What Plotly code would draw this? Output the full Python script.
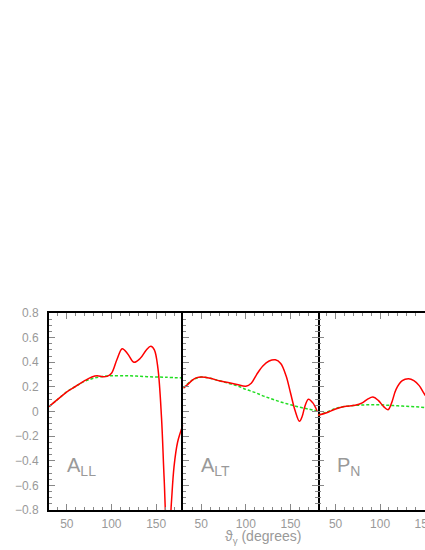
import plotly.graph_objects as go

# ---- data ----
x_ll_fit = [30, 40, 50, 60, 70, 78, 84, 90, 95, 100, 106, 112, 118, 125, 132, 139, 144, 148, 152, 156, 159, 162, 164.5, 167, 170, 174, 180]
y_ll_fit = [0.04, 0.10, 0.16, 0.205, 0.25, 0.28, 0.29, 0.282, 0.285, 0.31, 0.42, 0.51, 0.47, 0.40, 0.43, 0.50, 0.53, 0.50, 0.35, -0.05, -0.55, -0.95, -1.0, -0.75, -0.45, -0.25, -0.11]
x_ll_ref = [30, 40, 50, 60, 70, 80, 90, 100, 120, 140, 160, 180]
y_ll_ref = [0.04, 0.10, 0.16, 0.205, 0.245, 0.27, 0.285, 0.29, 0.29, 0.283, 0.278, 0.272]

x_lt_fit = [30, 35, 40, 45, 50, 60, 70, 80, 90, 100, 106, 112, 119, 126, 133, 139, 145, 150, 155, 160, 163, 166, 170, 175, 180]
y_lt_fit = [0.19, 0.22, 0.255, 0.275, 0.28, 0.27, 0.25, 0.235, 0.22, 0.205, 0.23, 0.30, 0.37, 0.41, 0.42, 0.39, 0.29, 0.15, 0.01, -0.08, -0.04, 0.04, 0.10, 0.07, 0.0]
x_lt_ref = [30, 40, 50, 60, 70, 80, 90, 100, 110, 120, 130, 140, 150, 160, 170, 180]
y_lt_ref = [0.19, 0.255, 0.28, 0.27, 0.25, 0.23, 0.21, 0.18, 0.155, 0.125, 0.10, 0.075, 0.055, 0.035, 0.02, 0.005]

x_pn_fit = [30, 40, 50, 60, 72, 80, 86, 92, 98, 104, 109, 113, 118, 125, 132, 138, 144, 150, 160, 170, 180]
y_pn_fit = [-0.03, -0.01, 0.02, 0.04, 0.05, 0.07, 0.10, 0.117, 0.09, 0.04, 0.015, 0.07, 0.18, 0.25, 0.265, 0.25, 0.21, 0.14, 0.05, 0.02, 0.06]
x_pn_ref = [30, 40, 50, 60, 70, 80, 90, 100, 110, 120, 130, 140, 150, 160, 170, 180]
y_pn_ref = [-0.03, -0.005, 0.025, 0.04, 0.048, 0.053, 0.055, 0.055, 0.05, 0.046, 0.042, 0.038, 0.032, 0.027, 0.022, 0.018]

panel_labels = ['A<sub>LL</sub>', 'A<sub>LT</sub>', 'P<sub>N</sub>']

panels = [
    (x_ll_fit, y_ll_fit, x_ll_ref, y_ll_ref),
    (x_lt_fit, y_lt_fit, x_lt_ref, y_lt_ref),
    (x_pn_fit, y_pn_fit, x_pn_ref, y_pn_ref),
]

grey = '#999999'
tick_grey = '#888888'
# plot area 49..425 px wide: panels of 134.4 px, the third one cut by the page edge
domains = [[0, 0.3574], [0.3574, 0.7148], [0.7148, 1.0]]
xranges = [[30, 180.5], [30, 180.5], [30, 150.5]]

fig = go.Figure()

for i, (xf, yf, xr, yr) in enumerate(panels):
    sfx = '' if i == 0 else str(i + 1)
    fig.add_trace(go.Scatter(
        x = xr, y = yr, mode = 'lines',
        line = dict(color = '#22dd22', width = 1.5, dash = '3px,2px', shape = 'spline', smoothing = 1.0),
        xaxis = 'x' + sfx, yaxis = 'y' + sfx, showlegend = False, hoverinfo = 'skip'
    ))
    fig.add_trace(go.Scatter(
        x = xf, y = yf, mode = 'lines',
        line = dict(color = '#ff0000', width = 1.5, shape = 'spline', smoothing = 1.0),
        xaxis = 'x' + sfx, yaxis = 'y' + sfx, showlegend = False, hoverinfo = 'skip'
    ))

    axis_x = dict(
        domain = domains[i], range = xranges[i], anchor = 'y' + sfx, automargin = False,
        tickmode = 'array', tickvals = [50, 100, 150],
        ticks = 'inside', ticklen = 6, tickcolor = tick_grey, tickwidth = 1,
        minor = dict(tickmode = 'array', tickvals = [40, 60, 70, 80, 90, 110, 120, 130, 140, 160, 170],
                     ticks = 'inside', ticklen = 3, tickcolor = tick_grey),
        showline = True, linecolor = 'black', linewidth = 2, mirror = 'ticks',
        showgrid = False, zeroline = False, ticklabeloverflow = 'allow', ticklabelstandoff = 2,
        tickfont = dict(color = grey, size = 12, family = 'Liberation Sans')
    )
    # panel borders: y1 left line, y2 left line + mirror, y3 no line (shares y2's mirror)
    axis_y = dict(
        domain = [0, 1], range = [-0.8, 0.8], anchor = 'x' + sfx, automargin = False,
        dtick = 0.2, tick0 = 0,
        ticks = 'inside', ticklen = 6, tickcolor = tick_grey, tickwidth = 1,
        minor = dict(dtick = 0.05, ticks = 'inside', ticklen = 3, tickcolor = tick_grey),
        showline = i < 2, linecolor = 'black', linewidth = 2,
        mirror = 'ticks' if i == 1 else False,
        showgrid = False, zeroline = False, showticklabels = (i == 0), ticklabelstandoff = 6,
        tickfont = dict(color = grey, size = 12, family = 'Liberation Sans')
    )
    fig.update_layout({'xaxis' + sfx: axis_x, 'yaxis' + sfx: axis_y})

    fig.add_annotation(
        x = 48 if i < 2 else 49, y = -0.45, xref = 'x' + sfx, yref = 'y' + sfx,
        text = panel_labels[i], showarrow = False, xanchor = 'left', yanchor = 'middle',
        font = dict(color = grey, size = 20, family = 'Liberation Sans')
    )

fig.add_annotation(
    x = (263 - 49) / 376, y = -27 / 197, xref = 'paper', yref = 'paper',
    text = 'ϑ<sub>γ</sub> (degrees)', showarrow = False, xanchor = 'center', yanchor = 'middle',
    font = dict(color = grey, size = 14, family = 'Liberation Sans')
)

fig.update_layout(
    width = 425,
    height = 550,
    margin = dict(l = 49, r = 0, t = 313, b = 40),
    plot_bgcolor = 'white',
    paper_bgcolor = 'white',
    showlegend = False
)

fig.write_html("out.html", config = {'displayModeBar': False},
               post_script = "document.body.style.margin = '0'; document.body.style.overflow = 'hidden';")
